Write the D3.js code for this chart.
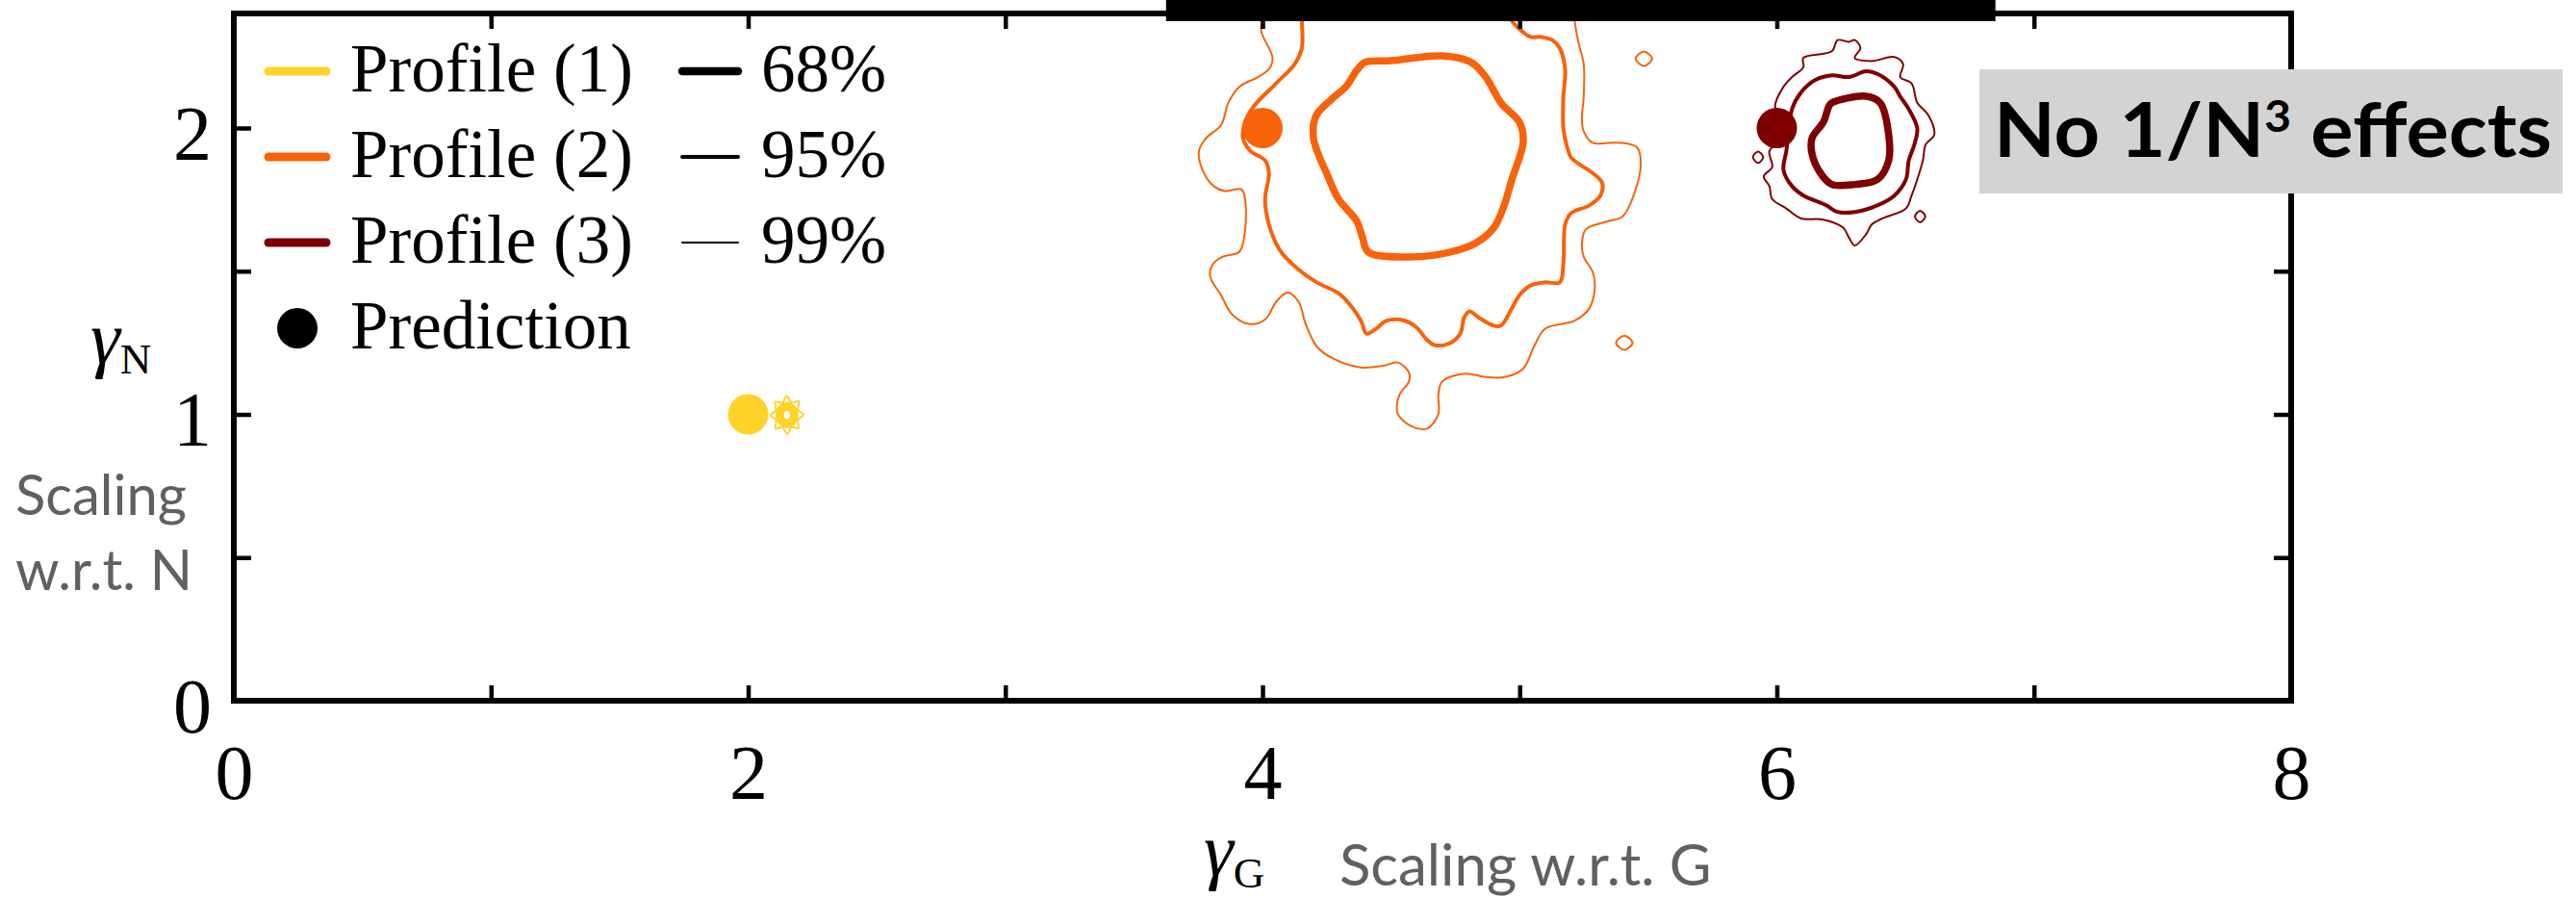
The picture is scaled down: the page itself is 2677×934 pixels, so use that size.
<!DOCTYPE html>
<html>
<head>
<meta charset="utf-8">
<script src="https://cdn.jsdelivr.net/npm/d3@7"></script>
<style>
  html, body { margin: 0; padding: 0; background: #fff; }
  svg { display: block; }
</style>
</head>
<body>
<script>
// Data
const profiles = ['Profile (1)', 'Profile (2)', 'Profile (3)'];
const profileColors = ['#ffd22a', '#f8620a', '#7f0000'];
const levels = ['68%', '95%', '99%'];
const predictions = [[2, 1], [4, 2], [6, 2]]; // [gammaG, gammaN] per profile
const xTicks = [0, 1, 2, 3, 4, 5, 6, 7, 8];
const xTickLabels = ['0', '', '2', '', '4', '', '6', '', '8'];
const yTicks = [0, 0.5, 1, 1.5, 2];
const yTickLabels = ['0', '', '1', '', '2'];

// Contours, [gammaG, gammaN]
const profile1_68 = [[2.177, 0.998], [2.170, 1.017], [2.151, 1.025], [2.132, 1.017], [2.125, 0.998], [2.132, 0.979], [2.151, 0.971], [2.170, 0.979]];
const profile1_95 = [[2.188, 0.998], [2.177, 1.025], [2.151, 1.037], [2.125, 1.025], [2.114, 0.998], [2.125, 0.971], [2.151, 0.959], [2.177, 0.971]];
const profile1_99 = [[2.215, 1.000], [2.194, 1.016], [2.197, 1.046], [2.169, 1.041], [2.149, 1.065], [2.133, 1.041], [2.105, 1.044],
  [2.108, 1.016], [2.087, 0.996], [2.108, 0.980], [2.107, 0.950], [2.133, 0.955], [2.153, 0.931], [2.169, 0.955], [2.196, 0.952], [2.194, 0.980]];

const profile2_68 = [[4.397, 2.229], [4.498, 2.235], [4.698, 2.252], [4.812, 2.229], [4.868, 2.178], [4.928, 2.087], [4.999, 2.020], [5.014, 1.953],
  [4.969, 1.818], [4.935, 1.718], [4.898, 1.650], [4.827, 1.597], [4.726, 1.566], [4.584, 1.550], [4.412, 1.566], [4.389, 1.617],
  [4.367, 1.674], [4.296, 1.751], [4.254, 1.832], [4.198, 1.966], [4.209, 2.044], [4.269, 2.101], [4.325, 2.145], [4.367, 2.202]];
const profile2_95 = [[4.15, 2.46], [4.153, 2.374], [4.153, 2.279], [4.125, 2.223], [4.053, 2.156], [3.967, 2.077], [3.932, 2.021], [3.924, 1.965],
  [3.953, 1.920], [4.010, 1.887], [4.025, 1.842], [4.010, 1.752], [4.025, 1.663], [4.068, 1.573], [4.140, 1.506], [4.211, 1.461],
  [4.297, 1.422], [4.340, 1.383], [4.383, 1.327], [4.404, 1.282], [4.440, 1.298], [4.483, 1.327], [4.554, 1.327], [4.598, 1.304],
  [4.641, 1.259], [4.669, 1.242], [4.727, 1.248], [4.769, 1.282], [4.784, 1.338], [4.805, 1.360], [4.841, 1.338], [4.898, 1.310],
  [4.927, 1.310], [4.970, 1.371], [4.999, 1.416], [5.042, 1.450], [5.099, 1.461], [5.156, 1.461], [5.170, 1.528], [5.177, 1.663],
  [5.199, 1.702], [5.271, 1.730], [5.314, 1.764], [5.321, 1.808], [5.285, 1.842], [5.228, 1.876], [5.199, 1.898], [5.185, 1.932],
  [5.170, 1.999], [5.170, 2.111], [5.177, 2.201], [5.156, 2.279], [5.127, 2.307], [5.084, 2.318], [5.042, 2.318], [5.013, 2.335],
  [4.970, 2.374], [4.94, 2.46]];
const profile2_99 = [[3.996, 2.46], [3.996, 2.374], [3.996, 2.335], [4.039, 2.245], [4.025, 2.206], [3.982, 2.178], [3.910, 2.144], [3.867, 2.088],
  [3.839, 2.010], [3.781, 1.965], [3.753, 1.920], [3.767, 1.853], [3.810, 1.797], [3.853, 1.780], [3.918, 1.786], [3.932, 1.752],
  [3.932, 1.640], [3.910, 1.568], [3.846, 1.551], [3.810, 1.528], [3.796, 1.483], [3.839, 1.416], [3.882, 1.349], [3.953, 1.315],
  [4.011, 1.332], [4.054, 1.394], [4.097, 1.425], [4.140, 1.394], [4.168, 1.315], [4.211, 1.237], [4.268, 1.198], [4.383, 1.164],
  [4.469, 1.170], [4.526, 1.181], [4.569, 1.147], [4.569, 1.114], [4.533, 1.069], [4.526, 1.002], [4.583, 0.957], [4.641, 0.951],
  [4.684, 1.002], [4.684, 1.069], [4.698, 1.114], [4.784, 1.142], [4.870, 1.130], [4.941, 1.130], [5.013, 1.159], [5.056, 1.237],
  [5.099, 1.299], [5.214, 1.327], [5.271, 1.371], [5.292, 1.439], [5.285, 1.495], [5.249, 1.551], [5.242, 1.595], [5.257, 1.646],
  [5.342, 1.674], [5.400, 1.691], [5.443, 1.764], [5.471, 1.876], [5.457, 1.932], [5.400, 1.948], [5.342, 1.948], [5.285, 1.948],
  [5.249, 1.988], [5.242, 2.032], [5.249, 2.111], [5.249, 2.223], [5.228, 2.301], [5.214, 2.374], [5.21, 2.46]];
const profile2_99a = [[5.483, 2.267], [5.515, 2.242], [5.483, 2.217], [5.451, 2.242]];
const profile2_99b = [[5.407, 1.275], [5.439, 1.250], [5.407, 1.225], [5.375, 1.250]];

const profile3_68 = [[6.214, 2.088], [6.347, 2.111], [6.402, 2.088], [6.435, 1.976], [6.435, 1.887], [6.391, 1.820], [6.303, 1.803],
  [6.214, 1.803], [6.170, 1.842], [6.137, 1.909], [6.137, 1.965], [6.181, 2.021], [6.203, 2.077]];
const profile3_95 = [[6.092, 2.122], [6.148, 2.167], [6.214, 2.184], [6.280, 2.178], [6.347, 2.198], [6.391, 2.189], [6.457, 2.144],
  [6.479, 2.111], [6.513, 2.066], [6.546, 1.999], [6.535, 1.943], [6.513, 1.887], [6.502, 1.820], [6.457, 1.764], [6.391, 1.730],
  [6.303, 1.707], [6.236, 1.707], [6.192, 1.730], [6.104, 1.764], [6.059, 1.797], [6.026, 1.853], [6.037, 1.920], [6.048, 1.999], [6.059, 2.066]];
const profile3_99 = [[6.103, 2.245], [6.214, 2.268], [6.236, 2.307], [6.280, 2.301], [6.303, 2.307], [6.325, 2.279], [6.303, 2.245],
  [6.369, 2.234], [6.457, 2.248], [6.491, 2.223], [6.480, 2.178], [6.524, 2.156], [6.546, 2.088], [6.590, 2.044], [6.612, 1.976],
  [6.579, 1.943], [6.568, 1.887], [6.546, 1.820], [6.524, 1.764], [6.502, 1.719], [6.413, 1.685], [6.369, 1.663], [6.347, 1.629],
  [6.303, 1.590], [6.280, 1.618], [6.258, 1.652], [6.181, 1.680], [6.092, 1.685], [6.037, 1.719], [5.982, 1.752], [5.971, 1.797],
  [5.949, 1.831], [5.982, 1.864], [5.971, 1.920], [6.015, 1.954], [6.037, 1.976], [6.004, 2.044], [5.993, 2.077], [6.026, 2.144],
  [6.059, 2.178], [6.103, 2.212]];
const profile3_99a = [[5.927, 1.918], [5.947, 1.898], [5.927, 1.878], [5.907, 1.898]];
const profile3_99b = [[6.557, 1.711], [6.577, 1.691], [6.557, 1.671], [6.537, 1.691]];

// Contour list: profile index, level index, points, closed?
const contours = [
  [0, 2, profile1_99, true], [0, 1, profile1_95, true], [0, 0, profile1_68, true],
  [1, 2, profile2_99, false], [1, 2, profile2_99a, true], [1, 2, profile2_99b, true],
  [1, 1, profile2_95, false], [1, 0, profile2_68, true],
  [2, 2, profile3_99, true], [2, 2, profile3_99a, true], [2, 2, profile3_99b, true],
  [2, 1, profile3_95, true], [2, 0, profile3_68, true]
];

// Constants
const width = 2677;
const height = 934;
const margin = { top: 14, right: 296, bottom: 206, left: 243 };
const levelWidths = [7.5, 4, 2];
const legendLevelWidths = [8.5, 4, 2];
const serif = "'Liberation Serif', 'Times New Roman', serif";
const sans = "Lato, 'Open Sans', sans-serif";

// Create SVG
const svg = d3.select('body')
  .append('svg')
  .attr('width', width)
  .attr('height', height)
  .attr('viewBox', [0, 0, width, height]);

// Scales
const x = d3.scaleLinear().domain([0, 8]).range([margin.left, width - margin.right]);
const y = d3.scaleLinear().domain([0, 2.4]).range([height - margin.bottom, margin.top]);

// Clip to the plot area
svg.append('clipPath')
  .attr('id', 'plot-clip')
  .append('rect')
  .attr('x', x(0))
  .attr('y', y(2.4))
  .attr('width', x(8) - x(0))
  .attr('height', y(0) - y(2.4));

// Contours
const closedLine = d3.line()
  .x(d => x(d[0]))
  .y(d => y(d[1]))
  .curve(d3.curveCatmullRomClosed.alpha(0.5));
const openLine = d3.line()
  .x(d => x(d[0]))
  .y(d => y(d[1]))
  .curve(d3.curveCatmullRom.alpha(0.5));

svg.append('g')
  .attr('clip-path', 'url(#plot-clip)')
  .attr('fill', 'none')
  .attr('stroke-linejoin', 'round')
  .selectAll('path')
  .data(contours)
  .join('path')
  .attr('d', d => (d[3] ? closedLine : openLine)(d[2]))
  .attr('stroke', d => profileColors[d[0]])
  .attr('stroke-width', d => levelWidths[d[1]]);

// Predictions
svg.append('g')
  .selectAll('circle')
  .data(predictions)
  .join('circle')
  .attr('cx', d => x(d[0]))
  .attr('cy', d => y(d[1]))
  .attr('r', 21)
  .attr('fill', (d, i) => profileColors[i]);

// Frame
svg.append('rect')
  .attr('x', x(0))
  .attr('y', y(2.4))
  .attr('width', x(8) - x(0))
  .attr('height', y(0) - y(2.4))
  .attr('fill', 'none')
  .attr('stroke', '#000')
  .attr('stroke-width', 6);

// Axes
function styleAxis(g) {
  g.select('.domain').remove();
  g.selectAll('.tick line').attr('stroke', '#000').attr('stroke-width', 4.5);
  g.attr('font-family', serif).attr('font-size', 80);
  g.selectAll('.tick text').attr('fill', '#000');
}

svg.append('g')
  .attr('transform', `translate(0,${y(0)})`)
  .call(d3.axisBottom(x).tickValues(xTicks).tickSize(-16).tickPadding(45)
    .tickFormat(d => xTickLabels[xTicks.indexOf(d)]))
  .call(styleAxis);

svg.append('g')
  .attr('transform', `translate(0,${y(2.4)})`)
  .call(d3.axisTop(x).tickValues(xTicks).tickSize(-16).tickFormat(''))
  .call(styleAxis);

svg.append('g')
  .attr('transform', `translate(${x(0)},0)`)
  .call(d3.axisLeft(y).tickValues(yTicks).tickSize(-18).tickPadding(23)
    .tickFormat(d => yTickLabels[yTicks.indexOf(d)]))
  .call(styleAxis)
  .call(g => g.selectAll('.tick text').attr('dy', '0.4em'));

svg.append('g')
  .attr('transform', `translate(${x(8)},0)`)
  .call(d3.axisRight(y).tickValues(yTicks).tickSize(-18).tickFormat(''))
  .call(styleAxis);

// Axis labels
const yLabel = svg.append('text')
  .attr('x', 94)
  .attr('y', 377)
  .attr('font-family', serif);
yLabel.append('tspan').attr('font-style', 'italic').attr('font-size', 78).text('γ');
yLabel.append('tspan').attr('font-size', 45).attr('dy', 11).text('N');

svg.append('text')
  .attr('x', 16)
  .attr('font-family', sans)
  .attr('font-size', 58)
  .attr('fill', '#606060')
  .selectAll('tspan')
  .data(['Scaling', 'w.r.t. N'])
  .join('tspan')
  .attr('x', 16)
  .attr('y', (d, i) => 535 + i * 78)
  .text(d => d);

const xLabel = svg.append('text')
  .attr('x', 1251)
  .attr('y', 909)
  .attr('font-family', serif);
xLabel.append('tspan').attr('font-style', 'italic').attr('font-size', 78).text('γ');
xLabel.append('tspan').attr('font-size', 45).attr('dy', 13).text('G');

svg.append('text')
  .attr('x', 1392)
  .attr('y', 920)
  .attr('font-family', sans)
  .attr('font-size', 60)
  .attr('fill', '#606060')
  .text('Scaling w.r.t. G');

// Legend: profiles
const legend = svg.append('g')
  .attr('font-family', serif)
  .attr('font-size', 71);

const profileRows = legend.selectAll('.profile')
  .data(profiles)
  .join('g')
  .attr('class', 'profile')
  .attr('transform', (d, i) => `translate(279,${74 + i * 89})`);
profileRows.append('line')
  .attr('x2', 60)
  .attr('stroke', (d, i) => profileColors[i])
  .attr('stroke-width', 9)
  .attr('stroke-linecap', 'round');
profileRows.append('text')
  .attr('x', 85)
  .attr('dy', '0.3em')
  .text(d => d);

const predRow = legend.append('g')
  .attr('transform', `translate(279,${74 + 3 * 89})`);
predRow.append('circle').attr('cx', 30).attr('r', 21).attr('fill', '#000');
predRow.append('text').attr('x', 85).attr('dy', '0.3em').text('Prediction');

// Legend: confidence levels
const levelRows = legend.selectAll('.level')
  .data(levels)
  .join('g')
  .attr('class', 'level')
  .attr('transform', (d, i) => `translate(709,${74 + i * 89})`);
levelRows.append('line')
  .attr('x2', 58)
  .attr('stroke', '#000')
  .attr('stroke-width', (d, i) => legendLevelWidths[i])
  .attr('stroke-linecap', 'round');
levelRows.append('text')
  .attr('x', 82)
  .attr('dy', '0.3em')
  .text(d => d);

// Cropped black box at the top edge
svg.append('rect')
  .attr('x', x(3.625))
  .attr('y', 0)
  .attr('width', x(6.85) - x(3.625))
  .attr('height', 22)
  .attr('fill', '#000');

// Annotation box
svg.append('rect')
  .attr('x', 2057)
  .attr('y', 72)
  .attr('width', 606)
  .attr('height', 129)
  .attr('fill', '#d3d3d3');
const note = svg.append('text')
  .attr('x', 2072)
  .attr('y', 163)
  .attr('font-family', sans)
  .attr('font-weight', 700)
  .attr('font-size', 79)
  .attr('fill', '#000')
  .attr('textLength', 580)
  .attr('lengthAdjust', 'spacingAndGlyphs');
note.append('tspan').text('No 1/N');
note.append('tspan').attr('font-size', 46).attr('dy', -26).text('3');
note.append('tspan').attr('dy', 26).text(' effects');
</script>
</body>
</html>
